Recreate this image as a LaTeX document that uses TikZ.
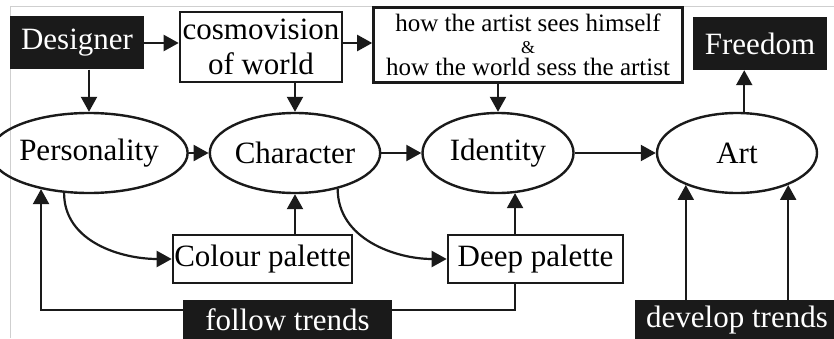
\documentclass[tikz,border=0pt]{standalone}
\usepackage{fontspec}
\setmainfont{Liberation Serif}
\usetikzlibrary{arrows.meta,positioning,shapes.geometric}
\definecolor{InkBlack}{HTML}{1A1A1A}
\definecolor{FrameGray}{HTML}{CFCFCF}

\begin{document}
\begin{tikzpicture}[x=1pt,y=1pt,>={Triangle[length=15pt,width=16pt]},
  font=\fontsize{31}{33}\selectfont,
  blackbox/.style={fill=InkBlack,text=white,inner sep=0pt},
  whitebox/.style={draw=InkBlack,line width=2.6pt,fill=white,inner sep=0pt},
  oval/.style={ellipse,draw=InkBlack,line width=2.4pt,inner sep=0pt,
               minimum height=80pt},
  link/.style={draw=InkBlack,line width=2.2pt}]
  \useasboundingbox (0,0) rectangle (834,338);
  \clip (0,0) rectangle (834,338);
  % borde gris del recorte original
  \draw[FrameGray,line width=1pt] (10,0) -- (10,331) -- (834,331);

  % fila superior
  \node[blackbox,minimum width=134pt,minimum height=53pt] (designer) at (77,295) {Designer};
  \node[whitebox,minimum width=162pt,minimum height=70pt,align=center,
        font=\fontsize{31}{35}\selectfont] (cosmo) at (261,291) {cosmovision\\of world};
  \node[whitebox,minimum width=309pt,minimum height=75pt,align=center,
        font=\fontsize{25}{22}\selectfont] (view) at (528,293)
        {how the artist sees himself\\{\fontsize{18}{22}\selectfont\&}\\how the world sess the artist};
  \node[blackbox,minimum width=134pt,minimum height=53pt] (freedom) at (760,294.5) {Freedom};

  % fila media
  \node[oval,minimum width=155pt] (persona) at (89,185) {Personality};
  \node[oval,minimum width=150pt] (character) at (295,185) {Character};
  \node[oval,minimum width=151pt] (identity) at (498,185) {Identity};
  \node[oval,minimum width=160pt] (art) at (737,185) {Art};

  % fila inferior
  \node[whitebox,minimum width=179pt,minimum height=48pt] (colour) at (262.5,79) {Colour palette};
  \node[whitebox,minimum width=175pt,minimum height=48pt] (deep) at (535.5,79) {Deep palette};
  \node[blackbox,minimum width=209pt,minimum height=40pt] (follow) at (287.5,18) {follow trends};
  \node[blackbox,minimum width=205pt,minimum height=40pt] (develop) at (737,18) {develop trends};

  % conexiones
  \draw[link,->] (designer.east) -- (designer.east -| cosmo.west);
  \draw[link,->] ([yshift=4pt]cosmo.east) -- ([yshift=4pt]cosmo.east -| view.west);
  \draw[link,->] (persona.north |- designer.south) -- (persona.north);
  \draw[link,->] (character.north |- cosmo.south) -- (character.north);
  \draw[link,->] (identity.north |- view.south) -- (identity.north);
  \draw[link,->] (art.80) -- (art.80 |- freedom.south);

  \draw[link,->] (persona) -- (character);
  \draw[link,->] (character) -- (identity);
  \draw[link,->] (identity) -- (art);

  \draw[link,->] (persona.238) to[out=-90,in=180] (colour.west);
  \draw[link,->] (character.320) to[out=-90,in=180] (deep.west);
  \draw[link,->] (character.south |- colour.north) -- (character.south);
  \draw[link,->] (identity.293 |- deep.north) -- (identity.293);

  \draw[link] (identity.293 |- deep.south) |- ([yshift=10pt]follow.east);
  \draw[link,->] ([yshift=10pt]follow.west) -| (persona.217);
  \draw[link,->] (art.212 |- develop.north) -- (art.212);
  \draw[link,->] (art.328 |- develop.north) -- (art.328);
\end{tikzpicture}
\end{document}
